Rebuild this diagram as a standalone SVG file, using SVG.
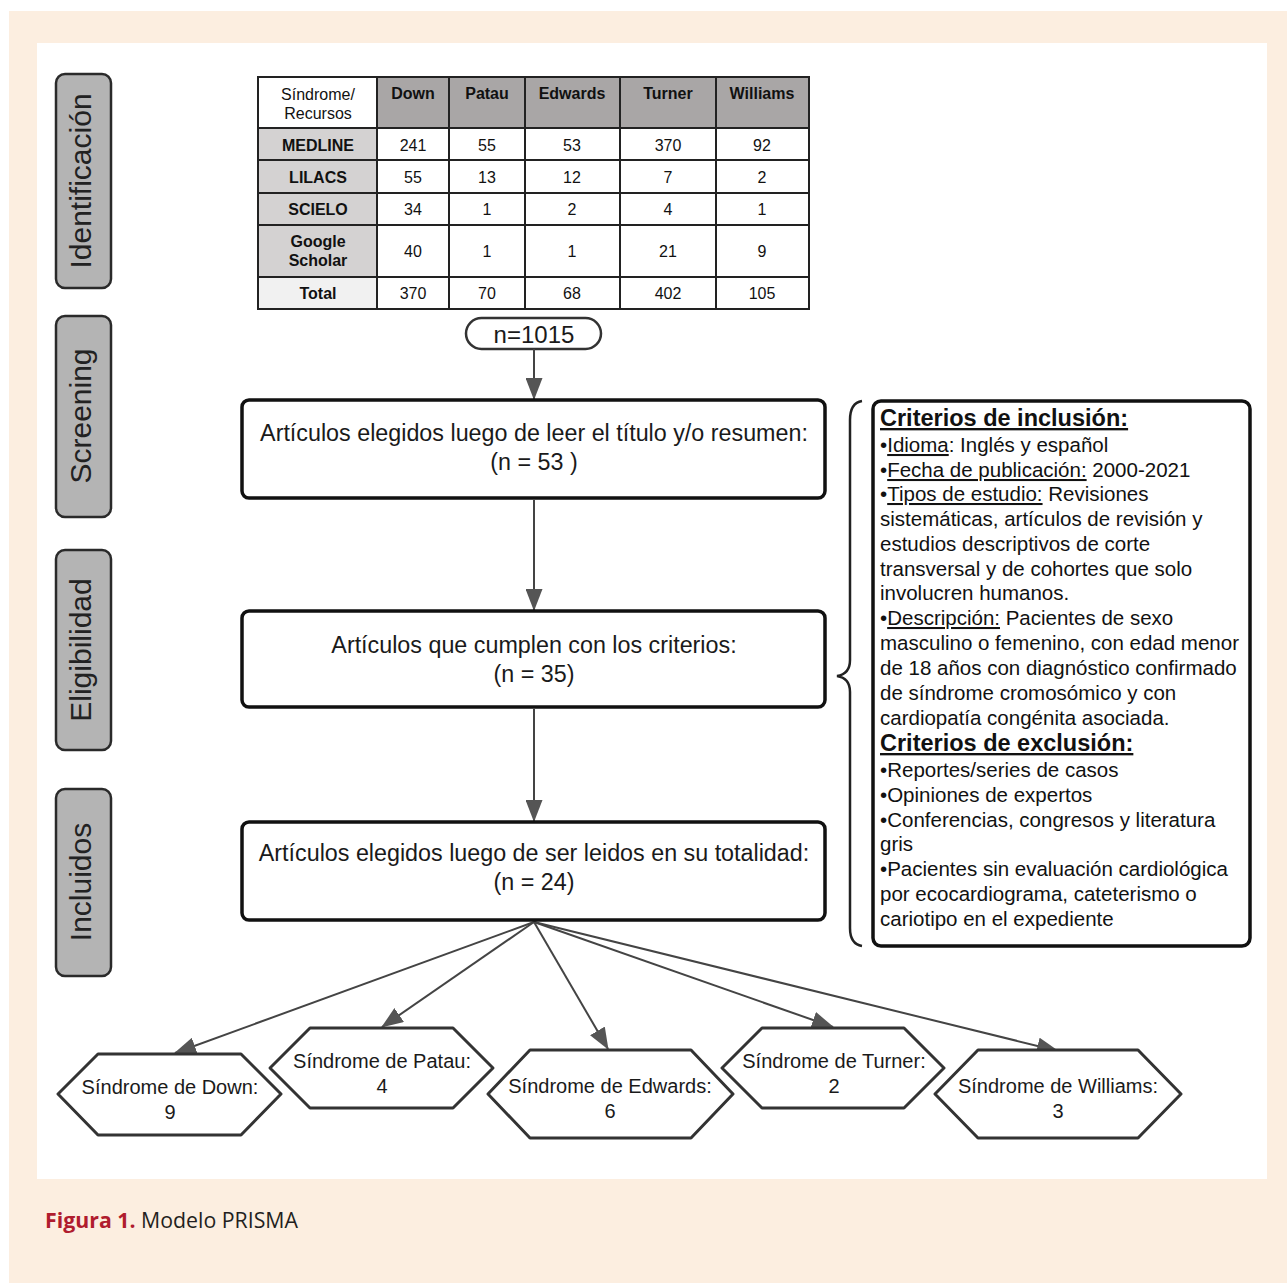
<svg xmlns="http://www.w3.org/2000/svg" width="1287" height="1283" viewBox="0 0 1287 1283">
<defs>
<style>
.side rect{fill:#B4B4B4;stroke:#2a2a2a;stroke-width:2.5}
.side text{font-family:"Liberation Sans",Arial,sans-serif;font-size:30px;fill:#222;text-anchor:middle}
.tb{stroke:#222;stroke-width:2}
.th{font-family:"Liberation Sans",Arial,sans-serif;font-size:16px;font-weight:bold;fill:#111;text-anchor:middle}
.td{font-family:"Liberation Sans",Arial,sans-serif;font-size:16px;fill:#111;text-anchor:middle}
.box{fill:#fff;stroke:#111;stroke-width:3.5}
.bt{font-family:"Liberation Sans",Arial,sans-serif;font-size:23.3px;fill:#1a1a1a;text-anchor:middle}
.hex{fill:#fff;stroke:#333;stroke-width:3;stroke-linejoin:round}
.ht{font-family:"Liberation Sans",Arial,sans-serif;font-size:20px;fill:#1a1a1a;text-anchor:middle}
.conn{stroke:#444;stroke-width:2;fill:none}
.crit{font-family:"Liberation Sans",Arial,sans-serif;font-size:20.5px;fill:#111}
.crh{font-weight:bold;font-size:23.5px;text-decoration:underline}
.u{text-decoration:underline}
</style>
<marker id="ah" viewBox="0 0 22 17" refX="21" refY="8.5" markerWidth="22" markerHeight="17" markerUnits="userSpaceOnUse" orient="auto">
<path d="M0,0 L22,8.5 L0,17 z" fill="#555"/>
</marker>
</defs>

<rect x="0" y="0" width="1287" height="1283" fill="#fff"/>
<rect x="9" y="11" width="1278" height="1272" fill="#FCEEE0"/>
<rect x="37" y="43" width="1230" height="1136" fill="#fff"/>

<g id="side-identificacion" class="side">
<rect x="56" y="74" width="55" height="214" rx="9"/>
<text transform="translate(91,181) rotate(-90)">Identificación</text>
</g>
<g id="side-screening" class="side">
<rect x="56" y="316" width="55" height="201" rx="9"/>
<text transform="translate(91,416) rotate(-90)">Screening</text>
</g>
<g id="side-elegibilidad" class="side">
<rect x="56" y="550" width="55" height="200" rx="9"/>
<text transform="translate(91,650) rotate(-90)">Eligibilidad</text>
</g>
<g id="side-incluidos" class="side">
<rect x="56" y="789" width="55" height="187" rx="9"/>
<text transform="translate(91,882) rotate(-90)">Incluidos</text>
</g>

<g id="table">
<rect x="258" y="77" width="119" height="51" fill="#fff"/>
<rect x="377" y="77" width="432" height="51" fill="#A9A6A6"/>
<rect x="258" y="128" width="119" height="149" fill="#D4D2D2"/>
<rect x="258" y="277" width="119" height="32" fill="#F1F1F1"/>
<rect x="377" y="128" width="432" height="181" fill="#fff"/>
<g class="tb">
<rect x="258" y="77" width="551" height="232" fill="none"/>
<line x1="377" y1="77" x2="377" y2="309"/>
<line x1="449" y1="77" x2="449" y2="309"/>
<line x1="525" y1="77" x2="525" y2="309"/>
<line x1="620" y1="77" x2="620" y2="309"/>
<line x1="716" y1="77" x2="716" y2="309"/>
<line x1="258" y1="128" x2="809" y2="128"/>
<line x1="258" y1="160" x2="809" y2="160"/>
<line x1="258" y1="193" x2="809" y2="193"/>
<line x1="258" y1="225" x2="809" y2="225"/>
<line x1="258" y1="277" x2="809" y2="277"/>
</g>
<text class="td" x="318" y="100">Síndrome/</text>
<text class="td" x="318" y="119">Recursos</text>
<text class="th" x="413" y="99">Down</text>
<text class="th" x="487" y="99">Patau</text>
<text class="th" x="572" y="99">Edwards</text>
<text class="th" x="668" y="99">Turner</text>
<text class="th" x="762" y="99">Williams</text>
<text class="th" x="318" y="151">MEDLINE</text>
<text class="th" x="318" y="183">LILACS</text>
<text class="th" x="318" y="215">SCIELO</text>
<text class="th" x="318" y="247">Google</text>
<text class="th" x="318" y="266">Scholar</text>
<text class="th" x="318" y="299">Total</text>
<text class="td" x="413" y="151">241</text><text class="td" x="487" y="151">55</text><text class="td" x="572" y="151">53</text><text class="td" x="668" y="151">370</text><text class="td" x="762" y="151">92</text>
<text class="td" x="413" y="183">55</text><text class="td" x="487" y="183">13</text><text class="td" x="572" y="183">12</text><text class="td" x="668" y="183">7</text><text class="td" x="762" y="183">2</text>
<text class="td" x="413" y="215">34</text><text class="td" x="487" y="215">1</text><text class="td" x="572" y="215">2</text><text class="td" x="668" y="215">4</text><text class="td" x="762" y="215">1</text>
<text class="td" x="413" y="257">40</text><text class="td" x="487" y="257">1</text><text class="td" x="572" y="257">1</text><text class="td" x="668" y="257">21</text><text class="td" x="762" y="257">9</text>
<text class="td" x="413" y="299">370</text><text class="td" x="487" y="299">70</text><text class="td" x="572" y="299">68</text><text class="td" x="668" y="299">402</text><text class="td" x="762" y="299">105</text>
</g>

<g id="n-total">
<rect x="466" y="318" width="135" height="31" rx="15.5" fill="#fff" stroke="#333" stroke-width="2.5"/>
<text class="bt" x="534" y="343" style="font-size:24px">n=1015</text>
</g>

<g id="connectors">
<line class="conn" x1="534" y1="349" x2="534" y2="399" marker-end="url(#ah)"/>
<line class="conn" x1="534" y1="500" x2="534" y2="610" marker-end="url(#ah)"/>
<line class="conn" x1="534" y1="709" x2="534" y2="821" marker-end="url(#ah)"/>
<line class="conn" x1="534" y1="922" x2="175" y2="1053" marker-end="url(#ah)"/>
<line class="conn" x1="534" y1="922" x2="382" y2="1027" marker-end="url(#ah)"/>
<line class="conn" x1="534" y1="922" x2="608" y2="1049" marker-end="url(#ah)"/>
<line class="conn" x1="534" y1="922" x2="833" y2="1027" marker-end="url(#ah)"/>
<line class="conn" x1="534" y1="922" x2="1058" y2="1051" marker-end="url(#ah)"/>
</g>

<g id="box-screening">
<rect class="box" x="242" y="400" width="583" height="98" rx="7"/>
<text class="bt" x="534" y="441">Artículos elegidos luego de leer el título y/o resumen:</text>
<text class="bt" x="534" y="470">(n = 53 )</text>
</g>
<g id="box-elegibilidad">
<rect class="box" x="242" y="611" width="583" height="96" rx="7"/>
<text class="bt" x="534" y="653">Artículos que cumplen con los criterios:</text>
<text class="bt" x="534" y="682">(n = 35)</text>
</g>
<g id="box-incluidos">
<rect class="box" x="242" y="822" width="583" height="98" rx="7"/>
<text class="bt" x="534" y="861">Artículos elegidos luego de ser leidos en su totalidad:</text>
<text class="bt" x="534" y="890">(n = 24)</text>
</g>

<g id="brace">
<path d="M862,401 Q850,403 850,420 L850,660 Q850,674 837,676 Q850,678 850,692 L850,928 Q850,944 862,946" fill="none" stroke="#222" stroke-width="2.5"/>
</g>

<g id="criterios">
<rect class="box" x="873" y="401" width="377" height="545" rx="8"/>
<text class="crit" x="880">
<tspan x="880" y="426" class="crh">Criterios de inclusión:</tspan>
<tspan x="880" y="452">•<tspan class="u">Idioma</tspan>: Inglés y español</tspan>
<tspan x="880" y="477">•<tspan class="u">Fecha de publicación:</tspan> 2000-2021</tspan>
<tspan x="880" y="501">•<tspan class="u">Tipos de estudio:</tspan> Revisiones</tspan>
<tspan x="880" y="526">sistemáticas, artículos de revisión y</tspan>
<tspan x="880" y="551">estudios descriptivos de corte</tspan>
<tspan x="880" y="576">transversal y de cohortes que solo</tspan>
<tspan x="880" y="600">involucren humanos.</tspan>
<tspan x="880" y="625">•<tspan class="u">Descripción:</tspan> Pacientes de sexo</tspan>
<tspan x="880" y="650">masculino o femenino, con edad menor</tspan>
<tspan x="880" y="675">de 18 años con diagnóstico confirmado</tspan>
<tspan x="880" y="700">de síndrome cromosómico y con</tspan>
<tspan x="880" y="725">cardiopatía congénita asociada.</tspan>
<tspan x="880" y="751" class="crh">Criterios de exclusión:</tspan>
<tspan x="880" y="777">•Reportes/series de casos</tspan>
<tspan x="880" y="802">•Opiniones de expertos</tspan>
<tspan x="880" y="827">•Conferencias, congresos y literatura</tspan>
<tspan x="880" y="851">gris</tspan>
<tspan x="880" y="876">•Pacientes sin evaluación cardiológica</tspan>
<tspan x="880" y="901">por ecocardiograma, cateterismo o</tspan>
<tspan x="880" y="926">cariotipo en el expediente</tspan>
</text>
</g>

<g id="hex-down">
<polygon class="hex" points="58,1094 98,1054 241,1054 281,1094 241,1135 98,1135"/>
<text class="ht" x="170" y="1094">Síndrome de Down:</text>
<text class="ht" x="170" y="1119">9</text>
</g>
<g id="hex-patau">
<polygon class="hex" points="270,1068 310,1028 453,1028 493,1068 453,1108 310,1108"/>
<text class="ht" x="382" y="1068">Síndrome de Patau:</text>
<text class="ht" x="382" y="1093">4</text>
</g>
<g id="hex-edwards">
<polygon class="hex" points="488,1094 530,1050 691,1050 733,1094 691,1138 530,1138"/>
<text class="ht" x="610" y="1093">Síndrome de Edwards:</text>
<text class="ht" x="610" y="1118">6</text>
</g>
<g id="hex-turner">
<polygon class="hex" points="722,1068 762,1028 904,1028 944,1068 904,1108 762,1108"/>
<text class="ht" x="834" y="1068">Síndrome de Turner:</text>
<text class="ht" x="834" y="1093">2</text>
</g>
<g id="hex-williams">
<polygon class="hex" points="935,1094 978,1050 1138,1050 1181,1094 1138,1138 978,1138"/>
<text class="ht" x="1058" y="1093">Síndrome de Williams:</text>
<text class="ht" x="1058" y="1118">3</text>
</g>

<g id="caption">
<text x="45" y="1228" style="font-family:'Open Sans','Noto Sans',sans-serif;font-size:21.3px;fill:#231F20"><tspan style="font-weight:bold;fill:#B01C2E">Figura 1.</tspan> Modelo PRISMA</text>
</g>
</svg>
